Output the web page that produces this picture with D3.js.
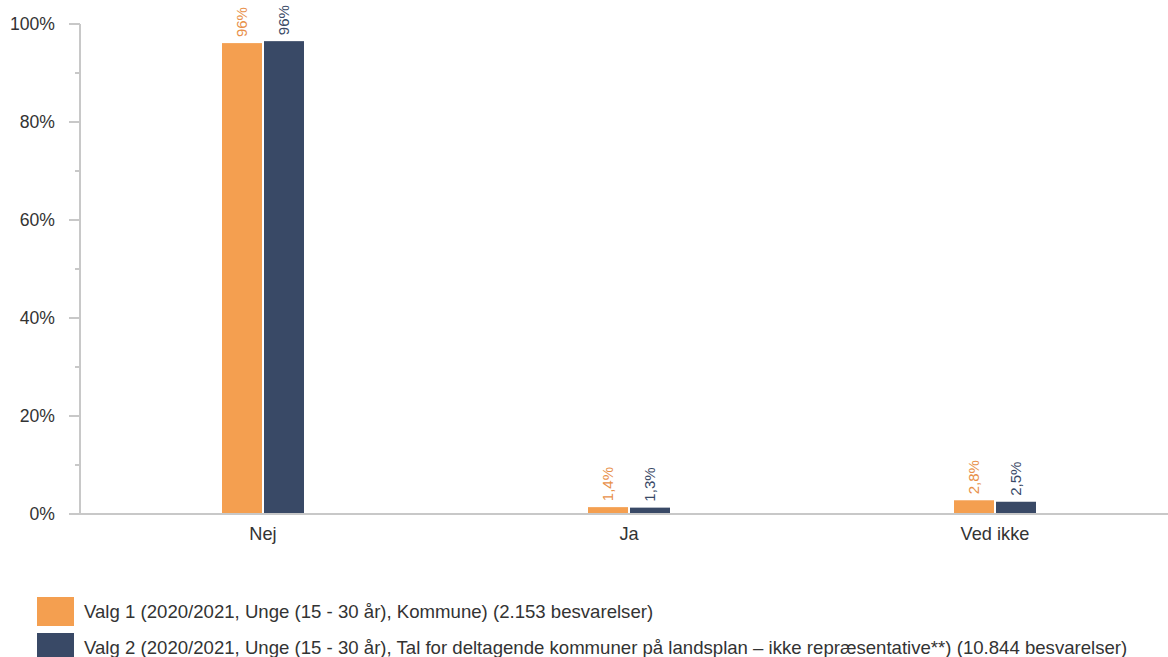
<!DOCTYPE html>
<html><head><meta charset="utf-8">
<script src="https://cdn.jsdelivr.net/npm/d3@7"></script>
<style>body{margin:0;background:#fff}svg{display:block}text{font-family:"Liberation Sans",Arial,sans-serif}</style>
</head><body>
<svg id="c" width="1168" height="657"></svg>
<script>
const categories = ["Nej", "Ja", "Ved ikke"];
const series1 = [96.1, 1.4, 2.8];
const series2 = [96.5, 1.3, 2.5];
const labels1 = ["96%", "1,4%", "2,8%"];
const labels2 = ["96%", "1,3%", "2,5%"];
const seriesNames = [
  "Valg 1 (2020/2021, Unge (15 - 30 år), Kommune) (2.153 besvarelser)",
  "Valg 2 (2020/2021, Unge (15 - 30 år), Tal for deltagende kommuner på landsplan – ikke repræsentative**) (10.844 besvarelser)"
];
const yTicks = [0, 20, 40, 60, 80, 100];
const yMinor = [10, 30, 50, 70, 90];
const colors = ["#F49F50", "#394966"];
const labelColors = ["#E8904A", "#394966"];

const svg = d3.select("#c");
const x = d3.scaleBand().domain(categories).range([80, 1178]);
const y = d3.scaleLinear().domain([0, 100]).range([514, 24]);
const barW = 40, gap = 2;

// y axis
const g = svg.append("g");
g.append("line").attr("x1", 80).attr("x2", 80).attr("y1", y(100)).attr("y2", y(0)).attr("stroke", "#c8c8c8").attr("stroke-width", 2);
g.selectAll(".maj").data(yTicks).join("line").attr("x1", 69).attr("x2", 80).attr("y1", d => y(d)).attr("y2", d => y(d)).attr("stroke", "#c8c8c8").attr("stroke-width", 2);
g.selectAll(".min").data(yMinor).join("line").attr("x1", 75).attr("x2", 80).attr("y1", d => y(d)).attr("y2", d => y(d)).attr("stroke", "#c8c8c8").attr("stroke-width", 2);
g.selectAll(".tl").data(yTicks).join("text").attr("x", 55).attr("y", d => y(d)).attr("dy", "0.35em").attr("text-anchor", "end").attr("font-size", 17.6).attr("fill", "#333").text(d => d + "%");

// bars
const data = categories.map((c, i) => ({c, v: [series1[i], series2[i]], l: [labels1[i], labels2[i]]}));
[0, 1].forEach(s => {
  svg.selectAll(".b" + s).data(data).join("rect")
    .attr("x", d => x(d.c) + x.bandwidth() / 2 + (s === 0 ? -barW - gap / 2 : gap / 2))
    .attr("width", barW)
    .attr("y", d => y(d.v[s]))
    .attr("height", d => y(0) - y(d.v[s]))
    .attr("fill", colors[s]);
  svg.selectAll(".l" + s).data(data).join("text")
    .attr("transform", d => {
      const cx = x(d.c) + x.bandwidth() / 2 + (s === 0 ? -barW / 2 - gap / 2 : barW / 2 + gap / 2);
      return `translate(${cx + 5},${y(d.v[s]) - 6}) rotate(-90)`;
    })
    .attr("font-size", 15).attr("fill", labelColors[s]).text(d => d.l[s]);
});

// x axis
svg.append("line").attr("x1", 69).attr("x2", 1168).attr("y1", y(0)).attr("y2", y(0)).attr("stroke", "#c8c8c8").attr("stroke-width", 2);
svg.selectAll(".xl").data(categories).join("text").attr("x", d => x(d) + x.bandwidth() / 2).attr("y", 540).attr("text-anchor", "middle").attr("font-size", 18.2).attr("fill", "#333").text(d => d);

// legend
const lg = svg.selectAll(".lg").data(seriesNames).join("g").attr("transform", (d, i) => `translate(37,${597 + i * 36})`);
lg.append("rect").attr("width", 37).attr("height", 29).attr("fill", (d, i) => colors[i]);
lg.append("text").attr("x", 47).attr("y", 14).attr("dy", "0.35em").attr("font-size", 18.6).attr("fill", "#333").text(d => d);
</script>
</body></html>
